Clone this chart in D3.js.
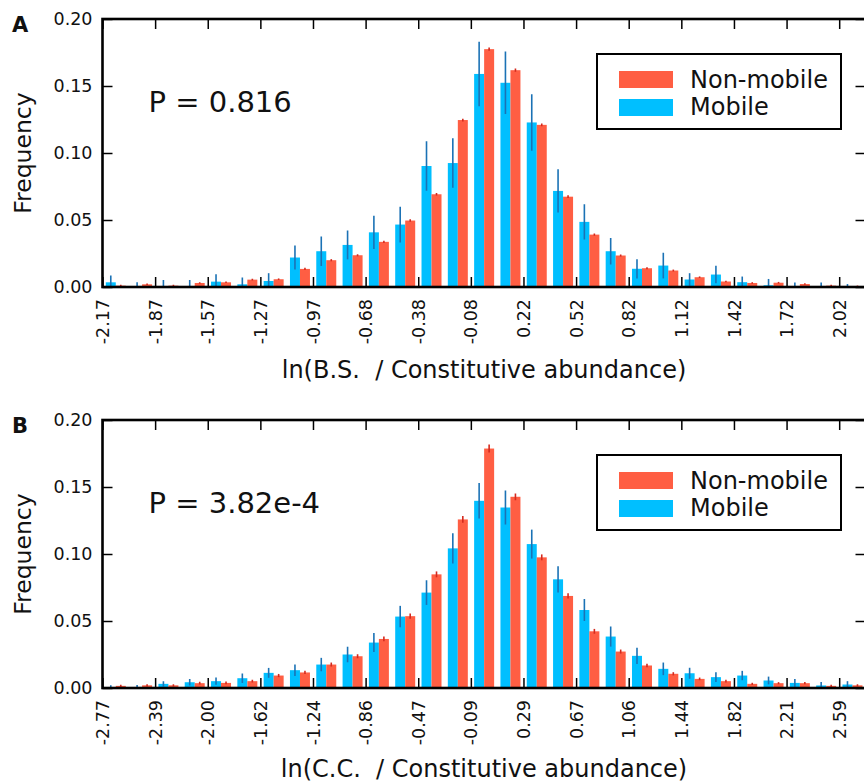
<!DOCTYPE html>
<html lang="en">
<head>
  <meta charset="UTF-8">
  <title>Frequency histograms</title>
  <script src="https://d3js.org/d3.v7.min.js"></script>
  <style>
    body { margin: 0; background: #fff; }
    svg { display: block; font-family: "DejaVu Sans", sans-serif; }
  </style>
</head>
<body>
<svg id="chart" width="864" height="784"></svg>
<script>
// ---- data ----
const ticksA = ["-2.17","-1.87","-1.57","-1.27","-0.97","-0.68","-0.38","-0.08","0.22","0.52","0.82","1.12","1.42","1.72","2.02"];
const ticksB = ["-2.77","-2.39","-2.00","-1.62","-1.24","-0.86","-0.47","-0.09","0.29","0.67","1.06","1.44","1.82","2.21","2.59"];
const yTicks = [0, 0.05, 0.10, 0.15, 0.20];
const seriesNames = ["Non-mobile", "Mobile"];

const mobileA = [0.0035,0.0005,0.0003,0.0002,0.004,0.002,0.0045,0.022,0.0267,0.0314,0.0408,0.0466,0.0903,0.0925,0.159,0.1524,0.1228,0.0717,0.0486,0.0267,0.0136,0.016,0.0056,0.0093,0.0036,0.0013,0.0003,0.0003,0.0002];
const mobileErrA = [0.005,0.003,0.005,0.005,0.0055,0.005,0.0058,0.009,0.011,0.0108,0.0124,0.0133,0.0184,0.0185,0.0241,0.0233,0.0211,0.0161,0.0132,0.0099,0.0072,0.0096,0.0047,0.0065,0.0042,0.0047,0.003,0.003,0.002];
const nonMobileA = [0.001,0.002,0.001,0.003,0.0035,0.0055,0.0058,0.0135,0.020,0.0237,0.0337,0.0496,0.0692,0.1246,0.1775,0.1618,0.121,0.0674,0.0391,0.0235,0.014,0.0123,0.0073,0.0041,0.003,0.0032,0.0022,0.001,0.0005];
const nonMobileErrA = [0.0006,0.0006,0.0006,0.0006,0.0006,0.0006,0.0006,0.0008,0.0008,0.0008,0.0008,0.0009,0.001,0.001,0.0012,0.0012,0.001,0.001,0.0008,0.0008,0.0007,0.0007,0.0006,0.0006,0.0006,0.0006,0.0006,0.0006,0.0006];

const mobileB = [0.0005,0.0003,0.0031,0.0043,0.0051,0.0073,0.0113,0.0133,0.0175,0.025,0.0339,0.0533,0.0712,0.1042,0.1397,0.1347,0.1074,0.0811,0.0582,0.0384,0.024,0.0143,0.011,0.0081,0.0093,0.0056,0.0038,0.0019,0.0026];
const mobileErrB = [0.0015,0.002,0.002,0.0025,0.0027,0.0035,0.0037,0.0043,0.005,0.0058,0.0071,0.008,0.0092,0.0112,0.0133,0.0127,0.0108,0.0098,0.0082,0.0075,0.0061,0.0047,0.0041,0.0037,0.0035,0.0029,0.0029,0.0025,0.0025];
const nonMobileB = [0.0016,0.002,0.002,0.0036,0.0038,0.0051,0.0093,0.0116,0.0175,0.0237,0.0366,0.0536,0.0848,0.1258,0.1787,0.1427,0.0975,0.0687,0.0423,0.0272,0.0168,0.0106,0.0068,0.0051,0.0031,0.0036,0.0036,0.0016,0.002];
const nonMobileErrB = [0.0008,0.0008,0.0008,0.001,0.001,0.001,0.0012,0.0012,0.0015,0.0015,0.0018,0.002,0.0022,0.0025,0.003,0.0025,0.0022,0.002,0.0018,0.0015,0.0013,0.0012,0.001,0.001,0.0008,0.0008,0.0008,0.0008,0.0008];

const RED = "#ff5e43", BLUE = "#00bfff", RED_ERR = "#d42a1e", BLUE_ERR = "#1b72b5";

const svg = d3.select("#chart");

const drawPanel = (cfg) => {
  const left = 102.5, right = 865.5, top = cfg.top, bottom = cfg.top + 268;
  const nBins = cfg.mobile.length;
  const x = d3.scaleLinear().domain([0, nBins]).range([left, right]);
  const y = d3.scaleLinear().domain([0, 0.2]).range([bottom, top]);
  const bw = x(1) - x(0);
  const barW = bw * 0.38;

  const g = svg.append("g");

  const clipId = "clip" + cfg.letter;
  svg.append("clipPath").attr("id", clipId)
    .append("rect").attr("x", left).attr("y", top).attr("width", right - left).attr("height", bottom - top);

  const plot = g.append("g").attr("clip-path", `url(#${clipId})`);

  const series = [
    { vals: cfg.mobile, errs: cfg.mobileErr, color: BLUE, ecolor: BLUE_ERR, off: 0.125 },
    { vals: cfg.nonMobile, errs: cfg.nonMobileErr, color: RED, ecolor: RED_ERR, off: 0.125 + 0.38 }
  ];

  series.forEach(s => {
    plot.append("g").selectAll("rect").data(s.vals).join("rect")
      .attr("x", (d, i) => x(i + s.off))
      .attr("y", d => y(d))
      .attr("width", barW)
      .attr("height", d => y(0) - y(d))
      .attr("fill", s.color);
  });
  series.forEach(s => {
    plot.append("g").selectAll("line").data(s.vals).join("line")
      .attr("x1", (d, i) => x(i + s.off) + barW / 2)
      .attr("x2", (d, i) => x(i + s.off) + barW / 2)
      .attr("y1", (d, i) => y(d - s.errs[i]))
      .attr("y2", (d, i) => y(d + s.errs[i]))
      .attr("stroke", s.ecolor)
      .attr("stroke-width", 1.6);
  });

  // axes (inward ticks, classic matplotlib look)
  const tickIdx = cfg.ticks.map((t, i) => i * 2);
  const tickLen = 10;

  const yAxisL = g.append("g").attr("transform", `translate(${left},0)`)
    .call(d3.axisLeft(y).tickValues(yTicks).tickSize(-tickLen).tickPadding(10).tickFormat(d3.format(".2f")));
  const yAxisR = g.append("g").attr("transform", `translate(${right},0)`)
    .call(d3.axisRight(y).tickValues(yTicks).tickSize(-tickLen).tickFormat(""));
  const xAxisT = g.append("g").attr("transform", `translate(0,${top})`)
    .call(d3.axisTop(x).tickValues(tickIdx).tickSize(-tickLen).tickFormat(""));
  const xAxisB = g.append("g").attr("transform", `translate(0,${bottom})`)
    .call(d3.axisBottom(x).tickValues(tickIdx).tickSize(-tickLen).tickFormat((d, i) => cfg.ticks[i]));

  [yAxisL, yAxisR, xAxisT, xAxisB].forEach(a => {
    a.select(".domain").remove();
    a.selectAll(".tick line").attr("stroke", "#000").attr("stroke-width", 1.5);
  });
  yAxisL.selectAll("text").attr("font-size", 17.5).attr("fill", "#111").attr("font-family", "DejaVu Sans");
  xAxisB.selectAll("text")
    .attr("font-size", 17.5).attr("fill", "#111").attr("font-family", "DejaVu Sans")
    .attr("text-anchor", "end")
    .attr("transform", "rotate(-90)")
    .attr("x", -12).attr("y", 0).attr("dy", "0.35em");

  // frame
  g.append("rect").attr("x", left).attr("y", top).attr("width", right - left).attr("height", bottom - top)
    .attr("fill", "none").attr("stroke", "#000").attr("stroke-width", 2.6);

  // P value
  g.append("text").attr("x", left + 46).attr("y", top + 93)
    .attr("font-size", 29).attr("fill", "#111").text(cfg.pText);

  // legend
  const lg = g.append("g").attr("transform", `translate(597,${top + 35})`);
  lg.append("rect").attr("width", 244).attr("height", 75)
    .attr("fill", "#fff").attr("stroke", "#000").attr("stroke-width", 2);
  const legendColors = [RED, BLUE];
  seriesNames.forEach((name, i) => {
    lg.append("rect").attr("x", 22).attr("y", 17 + i * 28).attr("width", 54).attr("height", 17)
      .attr("fill", legendColors[i]);
    lg.append("text").attr("x", 93).attr("y", 34 + i * 27)
      .attr("font-size", 24).attr("fill", "#111").text(name);
  });

  // axis titles
  g.append("text").attr("transform", `translate(31,${(top + bottom) / 2}) rotate(-90)`)
    .attr("text-anchor", "middle").attr("font-size", 23.5).attr("fill", "#111").text("Frequency");
  g.append("text").attr("x", (left + right) / 2).attr("y", bottom + cfg.titleGap)
    .attr("text-anchor", "middle").attr("font-size", 24).attr("fill", "#111")
    .style("white-space", "pre").text(cfg.xTitle);

  // panel letter
  g.append("text").attr("x", 12).attr("y", top + 13)
    .attr("font-size", 21).attr("font-weight", "bold").attr("fill", "#111").text(cfg.letter);
};

drawPanel({
  letter: "A", top: 19, ticks: ticksA, pText: "P = 0.816",
  xTitle: "ln(B.S.  / Constitutive abundance)", titleGap: 91,
  mobile: mobileA, mobileErr: mobileErrA, nonMobile: nonMobileA, nonMobileErr: nonMobileErrA
});
drawPanel({
  letter: "B", top: 420, ticks: ticksB, pText: "P = 3.82e-4",
  xTitle: "ln(C.C.  / Constitutive abundance)", titleGap: 89,
  mobile: mobileB, mobileErr: mobileErrB, nonMobile: nonMobileB, nonMobileErr: nonMobileErrB
});
</script>
</body>
</html>
